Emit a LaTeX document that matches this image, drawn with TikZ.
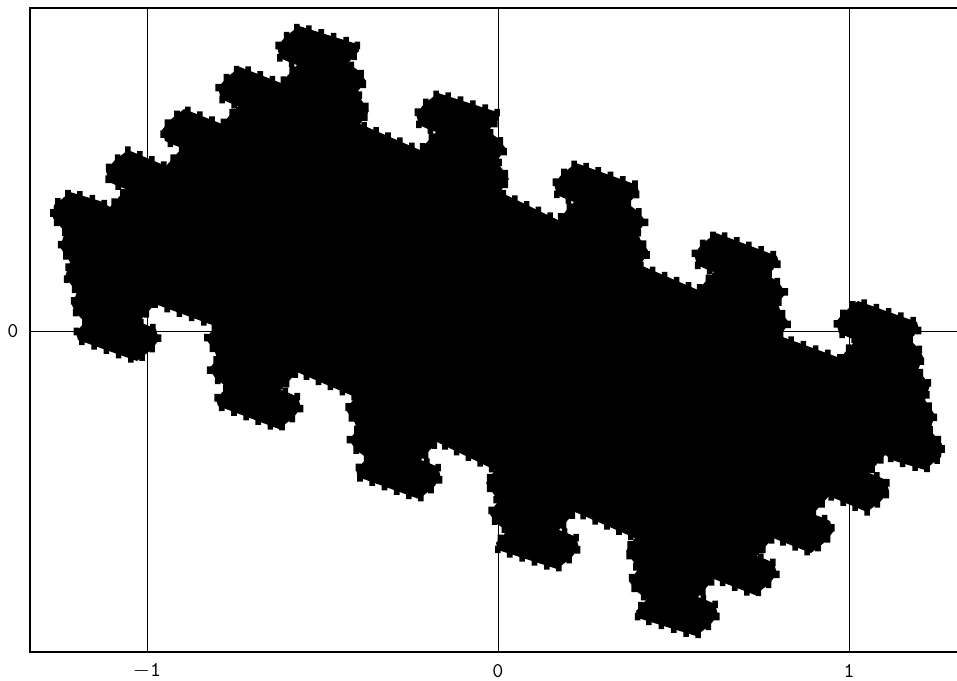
\documentclass[tikz,border=0pt]{standalone}
\usetikzlibrary{decorations.shapes}
\begin{document}
\begin{tikzpicture}[x=0.5pt,y=-0.5pt,
  frameline/.style={line width=1.1pt},
  gridline/.style={line width=0.5pt},
  tilebody/.style={fill=black},
  teeth/.style={fill=black, decorate, decoration={shape backgrounds, shape=rectangle,
     shape width=2.8pt, shape height=3.8pt, shape sep={6.5pt, between centers}, shape sloped=false}},
  lbl/.style={font=\ttfamily\fontsize{10.5}{11}\selectfont, inner sep=0pt}]
\useasboundingbox (0,0) rectangle (957,680);
\fill[white] (0,0) rectangle (957,680);
% grid lines
\coordinate (gAt) at (147.5,8);  \coordinate (gAb) at (147.5,652);
\coordinate (gBt) at (498,8);    \coordinate (gBb) at (498,652);
\coordinate (gCt) at (849,8);    \coordinate (gCb) at (849,652);
\coordinate (gYl) at (30,331);   \coordinate (gYr) at (957,331);
\draw[gridline] (gAt) -- (gAb);
\draw[gridline] (gBt) -- (gBb);
\draw[gridline] (gCt) -- (gCb);
\draw[gridline] (gYl) -- (gYr);
% half of the tile boundary (left tip -> top -> right tip)
\def\tophalf{(53,213) -- (54,205) -- (62,199) -- (70,192) -- (80,195) -- (90,198) -- (100,201) -- (110,207)
 -- (126,189) -- (118,186) -- (109,182) -- (106,171) -- (114,161) -- (128,150) -- (166,166)
 -- (182,148) -- (174,145) -- (165,141) -- (162,130) -- (170,120) -- (184,109) -- (222,124)
 -- (238,106) -- (230,103) -- (221,99) -- (218,88) -- (226,78) -- (240,67) -- (281,83)
 -- (297,65) -- (289,62) -- (280,58) -- (277,47) -- (285,37) -- (299,26) -- (357,44)
 -- (359,51) -- (348,63) -- (359,71) -- (366,81) -- (358,91) -- (360,98) -- (369,111) -- (360,124) -- (420,150)
 -- (436,132) -- (428,129) -- (419,125) -- (416,114) -- (424,104) -- (438,93) -- (497,112)
 -- (499,119) -- (488,131) -- (499,139) -- (506,149) -- (498,159) -- (500,166) -- (509,179) -- (500,192) -- (558,220)
 -- (574,202) -- (566,199) -- (557,195) -- (554,184) -- (562,174) -- (576,163) -- (637,185)
 -- (639,192) -- (628,204) -- (639,212) -- (646,222) -- (638,232) -- (640,239) -- (649,252) -- (640,265) -- (698,290)
 -- (714,272) -- (706,269) -- (697,265) -- (694,254) -- (702,244) -- (716,233) -- (777,256)
 -- (779,263) -- (768,275) -- (779,283) -- (786,293) -- (778,303) -- (780,310) -- (789,323) -- (780,336) -- (840,358)
 -- (856,340) -- (848,337) -- (839,333) -- (836,322) -- (844,312) -- (858,301) -- (917,322)
 -- (919,330) -- (910,340) -- (920,350) -- (923,357) -- (918,370) -- (930,385) -- (925,400) -- (935,415) -- (930,430) -- (942,444) -- (943,451)}
\fill[tilebody] \tophalf -- cycle;
\fill[teeth] \tophalf;
\begin{scope}[rotate around={180:(497.5,331)}]
\fill[tilebody] \tophalf -- cycle;
\fill[teeth] \tophalf;
\end{scope}
% frame
\coordinate (fTR) at (957,8); \coordinate (fTL) at (30,8);
\coordinate (fBL) at (30,652); \coordinate (fBR) at (957,652);
\draw[frameline] (fTR) -- (fTL) -- (fBL) -- (fBR);
% labels
\node[lbl] (lm1) at (147,671) {$-$1};
\node[lbl] (l0) at (498,671) {0};
\node[lbl] (l1) at (849,671) {1};
\node[lbl] (ly0) at (13,331) {0};
\end{tikzpicture}
\end{document}
